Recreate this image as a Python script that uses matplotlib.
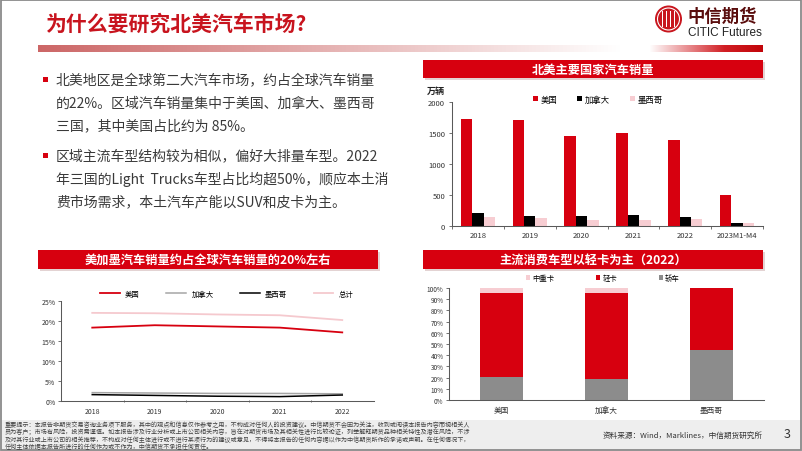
import numpy as np
import matplotlib
matplotlib.use('Agg')
import matplotlib.pyplot as plt
from matplotlib.patches import Rectangle, Circle

plt.rcParams['font.family'] = ['Noto Sans CJK SC', 'DejaVu Sans']

W, H = 802, 452

# 北美主要国家汽车销量（万辆）
years_sales = ['2018', '2019', '2020', '2021', '2022', '2023M1-M4']
sales_us = [1720, 1700, 1446, 1500, 1382, 495]
sales_ca = [199, 162, 150, 166, 146, 43]
sales_mx = [140, 129, 97, 87, 108, 37]

# 美加墨汽车销量占全球比例（%）
years_share = ['2018', '2019', '2020', '2021', '2022']
share_us = [18.4, 19.0, 18.7, 18.4, 17.2]
share_ca = [2.1, 2.0, 1.9, 1.9, 1.8]
share_mx = [1.6, 1.4, 1.2, 1.1, 1.5]
share_total = [22.1, 22.0, 21.7, 21.5, 20.3]

# 2022年车型结构（%）
countries = ['美国', '加拿大', '墨西哥']
mix_car = [20.5, 19.0, 44.5]
mix_light = [74.8, 76.3, 55.5]
mix_heavy = [4.7, 4.7, 0.0]

RED = '#D7000F'
PINK = '#F7CDD2'
GRAY = '#8C8C8C'
TXT = '#3a3a3a'


def px_box(x0, y0, x1, y1):
    # 像素坐标（左上为原点）转 figure 坐标
    return [x0 / W, 1 - y1 / H, (x1 - x0) / W, (y1 - y0) / H]


fig = plt.figure(figsize=(W / 100, H / 100), dpi=100)
fig.patch.set_facecolor('white')

# 背景层：标题、文字、装饰
bg = fig.add_axes([0, 0, 1, 1])
bg.axis('off')

# 标题下的渐变条
xs = np.linspace(38, 763, 726)
stops = [38, 620, 650, 725, 763]
grad = np.stack([np.interp(xs, stops, [0.80, 1, 1, 0.82, 0.76]),
                 np.interp(xs, stops, [0.40, 1, 1, 0.12, 0.02]),
                 np.interp(xs, stops, [0.40, 1, 1, 0.14, 0.04])], axis=-1)
bg.imshow(grad[np.newaxis, :, :], extent=[38, 763, 52.5, 46], aspect='auto',
          interpolation='bilinear')
bg.set_xlim(0, W)
bg.set_ylim(H, 0)

bg.text(46, 24, '为什么要研究北美汽车市场?', fontsize=15, fontweight='bold',
        color='#C8141E', va='center', ha='left')

# logo
bg.add_patch(Circle((668.5, 20), 13.5, fc='#C8161E', ec='none'))
bg.add_patch(Circle((668.5, 20), 11, fill=False, ec='white', lw=0.8))
for dx in [-6, -2, 2, 6]:
    bg.add_patch(Rectangle((668.5 + dx - 0.7, 12), 1.4, 16, fc='white', ec='none'))
bg.text(687, 17, '中信期货', fontsize=12.5, fontweight='bold', color='#5a0d0d',
        va='center', ha='left')
bg.text(688, 32.5, 'CITIC Futures', fontsize=8.5,
        family=['Liberation Sans Narrow', 'Liberation Sans', 'DejaVu Sans'],
        color='#222222', va='center', ha='left')

# 要点文字
bullets = [
    (80.7, ['北美地区是全球第二大汽车市场，约占全球汽车销量',
            '的22%。区域汽车销量集中于美国、加拿大、墨西哥',
            '三国，其中美国占比约为 85%。']),
    (156.7, ['区域主流车型结构较为相似，偏好大排量车型。2022',
             '年三国的Light  Trucks车型占比均超50%，顺应本土消',
             '费市场需求，本土汽车产能以SUV和皮卡为主。']),
]
for y0, lines in bullets:
    bg.add_patch(Rectangle((43, y0 - 2.5), 5, 5, fc=RED, ec='none'))
    for i, line in enumerate(lines):
        bg.text(56, y0 + i * 23, line, fontsize=10, color=TXT, va='center', ha='left')

# 图表标题条
banners = [
    ((423, 61, 763, 79), '北美主要国家汽车销量'),
    ((38, 251, 378, 270), '美加墨汽车销量约占全球汽车销量的20%左右'),
    ((423, 251, 763, 270), '主流消费车型以轻卡为主（2022）'),
]
for (x0, y0, x1, y1), title in banners:
    bg.add_patch(Rectangle((x0 + 1.5, y0 + 1.5), x1 - x0, y1 - y0, fc='#e3d3d3', ec='none'))
    bg.add_patch(Rectangle((x0, y0), x1 - x0, y1 - y0, fc=RED, ec='none'))
    bg.text((x0 + x1) / 2, (y0 + y1) / 2, title, fontsize=8.8, fontweight='bold',
            color='white', va='center', ha='center')

bg.text(427, 91, '万辆', fontsize=6.5, fontweight='bold', color='#222222', va='center')

# 页脚
bg.add_patch(Rectangle((0, 421), W, 31, fc='#EEEEEE', ec='none'))
footer = [
    '重要提示：本报告非期货交易咨询业务项下服务，其中的观点和信息仅作参考之用，不构成对任何人的投资建议。中信期货不会因为关注，收到或阅读本报告内容而视相关人',
    '员为客户；市场有风险，投资需谨慎。如本报告涉及行业分析或上市公司相关内容，旨在对期货市场及其相关性进行比较论证，列举解释期货品种相关特性及潜在风险，不涉',
    '及对其行业或上市公司的相关推荐，不构成对任何主体进行或不进行某项行为的建议或意见，不得将本报告的任何内容据以作为中信期货所作的承诺或声明。在任何情况下，',
    '任何主体依据本报告所进行的任何作为或不作为，中信期货不承担任何责任。',
]
for i, line in enumerate(footer):
    bg.text(5, 425 + i * 7.4, line, fontsize=4.4, color='#404040', va='center', ha='left')
bg.text(763, 435.5, '资料来源：Wind，Marklines，中信期货研究所', fontsize=5.5,
        color='#333333', va='center', ha='right')
bg.text(787, 435, '3', fontsize=9, color='#333333', va='center', ha='center')

bg.add_patch(Rectangle((0.8, 0.8), W - 1.6, H - 1.6, fill=False, ec='#8a8a8a', lw=1.3))


def style_axes(ax, labelsize):
    for s in ['top', 'right']:
        ax.spines[s].set_visible(False)
    for s in ['left', 'bottom']:
        ax.spines[s].set_color('#595959')
        ax.spines[s].set_linewidth(0.75)
    ax.tick_params(labelsize=labelsize, colors='#595959', labelcolor='#333333',
                   length=2, width=0.6, pad=2)
    ax.set_facecolor('none')


# 图1：北美主要国家汽车销量
ax1 = fig.add_axes(px_box(452, 102.7, 763, 226.7))
x = np.arange(len(years_sales))
w = 0.22
ax1.bar(x - w, sales_us, w, color=RED, label='美国')
ax1.bar(x, sales_ca, w, color='black', label='加拿大')
ax1.bar(x + w, sales_mx, w, color=PINK, label='墨西哥')
ax1.set_xlim(-0.5, len(years_sales) - 0.5)
ax1.set_ylim(0, 2000)
ax1.set_yticks(range(0, 2001, 500))
ax1.set_xticks(x, years_sales)
ax1.set_xticks(np.arange(-0.5, len(years_sales), 1), minor=True)
style_axes(ax1, 5.5)
ax1.tick_params(axis='x', which='major', length=0, pad=4)
ax1.tick_params(axis='x', which='minor', length=2, width=0.6, colors='#595959')
ax1.tick_params(axis='y', pad=3)
ax1.legend(loc='center left', bbox_to_anchor=(533 / W, 1 - 100 / H),
           bbox_transform=fig.transFigure, ncol=3, frameon=False, fontsize=6,
           handlelength=0.6, handleheight=0.6, handletextpad=0.3,
           columnspacing=2.4, borderpad=0, borderaxespad=0)

# 图2：占全球汽车销量比例
ax2 = fig.add_axes(px_box(61, 302.3, 373.5, 402))
x2 = np.arange(len(years_share))
ax2.plot(x2, share_us, color=RED, lw=1.3, label='美国')
ax2.plot(x2, share_ca, color='#A6A6A6', lw=1.1, label='加拿大')
ax2.plot(x2, share_mx, color='black', lw=1.1, label='墨西哥')
ax2.plot(x2, share_total, color='#F5C9CE', lw=1.3, label='总计')
ax2.set_xlim(-0.5, len(years_share) - 0.5)
ax2.set_ylim(0, 25)
ax2.set_yticks(range(0, 26, 5), [f'{v}%' for v in range(0, 26, 5)])
ax2.set_xticks(x2, years_share)
ax2.set_xticks(np.arange(0.5, len(years_share) - 0.5, 1), minor=True)
style_axes(ax2, 5)
ax2.tick_params(axis='x', which='major', length=0, pad=4)
ax2.tick_params(axis='x', which='minor', length=2, width=0.6, direction='inout',
                colors='#595959')
ax2.legend(loc='center left', bbox_to_anchor=(100 / W, 1 - 294.5 / H),
           bbox_transform=fig.transFigure, ncol=4, frameon=False, fontsize=5.3,
           handlelength=2.7, handletextpad=0.7, columnspacing=3.6,
           borderpad=0, borderaxespad=0)

# 图3：2022年车型结构
ax3 = fig.add_axes(px_box(449, 289, 764, 401))
x3 = np.arange(len(countries))
bw = 0.41
light_bottom = np.array(mix_car)
heavy_bottom = light_bottom + np.array(mix_light)
h_heavy = ax3.bar(x3, mix_heavy, bw, bottom=heavy_bottom, color=PINK, label='中重卡')
h_light = ax3.bar(x3, mix_light, bw, bottom=light_bottom, color=RED, label='轻卡')
h_car = ax3.bar(x3, mix_car, bw, color=GRAY, label='轿车')
ax3.set_xlim(-0.5, len(countries) - 0.5)
ax3.set_ylim(0, 100)
ax3.set_yticks(range(0, 101, 10), [f'{v}%' for v in range(0, 101, 10)])
ax3.set_xticks(x3, countries)
style_axes(ax3, 4.6)
ax3.tick_params(axis='x', length=0, pad=4, labelsize=5.5)
ax3.legend(handles=[h_heavy, h_light, h_car], loc='center left',
           bbox_to_anchor=(526 / W, 1 - 279 / H), bbox_transform=fig.transFigure,
           ncol=3, frameon=False, fontsize=5.3, handlelength=0.6, handleheight=0.6,
           handletextpad=0.3, columnspacing=5.6, borderpad=0, borderaxespad=0)

fig.savefig('out.png', dpi=100)
